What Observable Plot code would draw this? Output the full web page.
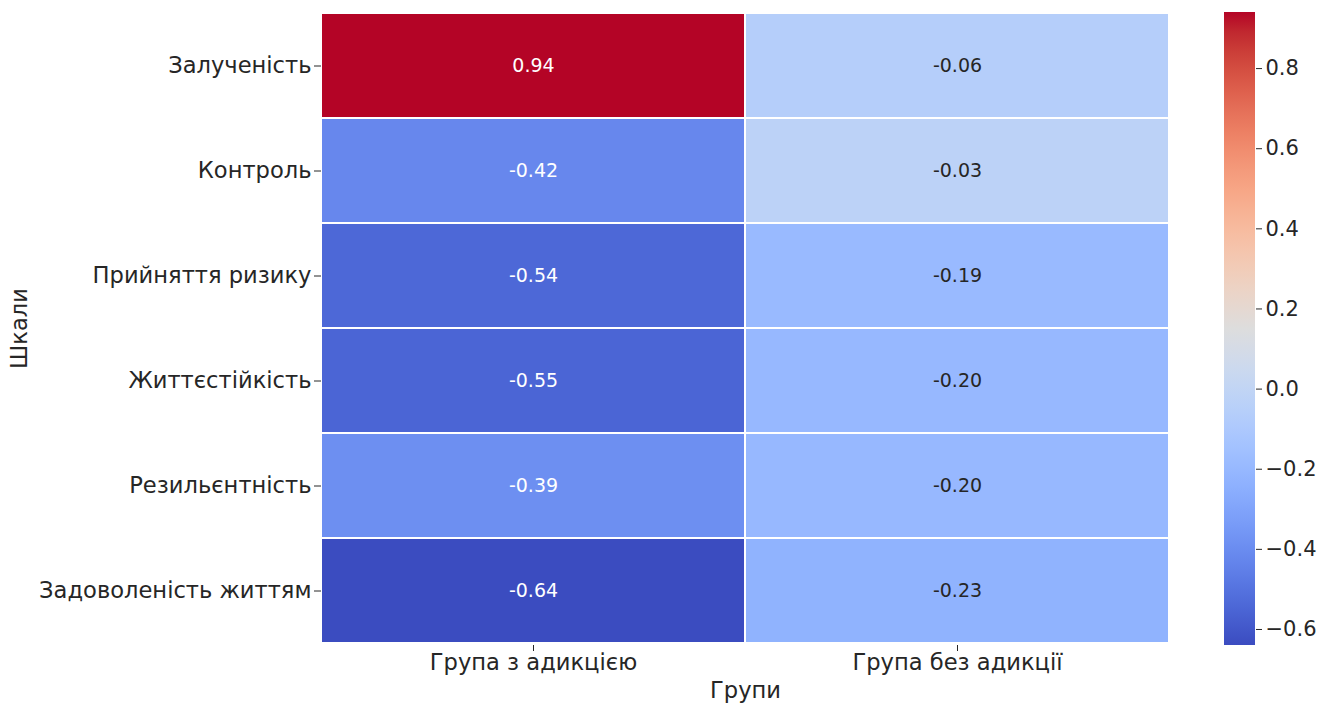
<!DOCTYPE html>
<html>
<head>
<meta charset="utf-8">
<script src="https://cdn.jsdelivr.net/npm/d3@7"></script>
<script src="https://cdn.jsdelivr.net/npm/@observablehq/plot@0.6"></script>
<style>
  html, body { margin: 0; padding: 0; background: #fff; }
  #wrap { position: relative; width: 1334px; height: 704px; overflow: hidden; }
  #heat { position: absolute; left: 0; top: 0; }
  #cbar { position: absolute; left: 1180px; top: 0; }
</style>
</head>
<body>
<div id="wrap"><div id="heat"></div><div id="cbar"></div></div>
<script>
// ---- data ----
const scales = ["Залученість", "Контроль", "Прийняття ризику", "Життєстійкість", "Резильєнтність", "Задоволеність життям"];
const groups = ["Група з адикцією", "Група без адикції"];
const withAddiction = [0.94, -0.42, -0.54, -0.55, -0.39, -0.64];
const withoutAddiction = [-0.06, -0.03, -0.19, -0.20, -0.20, -0.23];
const colorbarTicks = [-0.6, -0.4, -0.2, 0.0, 0.2, 0.4, 0.6, 0.8];
const xLabel = "Групи";
const yLabel = "Шкали";

// ---- table built from arrays ----
const cells = [];
scales.forEach((s, i) => {
  cells.push({group: groups[0], scale: s, value: withAddiction[i]});
  cells.push({group: groups[1], scale: s, value: withoutAddiction[i]});
});
const extent = d3.extent(cells, d => d.value);

// coolwarm palette anchors
const coolwarm = ["#3b4cc0","#445acc","#4d68d7","#5775e1","#6282ea","#6c8ef1","#779af7","#82a5fb","#8db0fe","#98b9ff","#a3c2ff","#aec9fd","#b8d0f9","#c2d5f4","#ccd9ee","#d5dbe6","#dddddd","#e5d8d1","#ecd3c5","#f1ccb8","#f5c4ac","#f7bb9f","#f7b193","#f7a686","#f49a7b","#f18d6f","#ec7f63","#e57059","#de604d","#d55042","#cb3e38","#c0282f","#b40426"];
const interp = d3.interpolateRgbBasis(coolwarm);
const colorOf = v => interp((v - extent[0]) / (extent[1] - extent[0]));
function textColor(v) {
  const c = d3.rgb(colorOf(v));
  const lin = x => { x /= 255; return x <= 0.03928 ? x / 12.92 : Math.pow((x + 0.055) / 1.055, 2.4); };
  const lum = 0.2126 * lin(c.r) + 0.7152 * lin(c.g) + 0.0722 * lin(c.b);
  return lum > 0.408 ? "#262626" : "#ffffff";
}

const font = "'DejaVu Sans', sans-serif";

const heat = Plot.plot({
  width: 1200,
  height: 704,
  marginLeft: 321,
  marginRight: 31,
  marginTop: 11,
  marginBottom: 59,
  style: {fontFamily: font, fontSize: "22.6px", color: "#262626", background: "transparent"},
  x: {domain: groups, label: null, padding: 0},
  y: {domain: scales, label: null, padding: 0},
  color: {type: "linear", domain: extent, interpolate: () => interp},
  marks: [
    Plot.cell(cells, {x: "group", y: "scale", fill: "value", inset: 1}),
    Plot.text(cells, {x: "group", y: "scale", text: d => d.value.toFixed(2), fill: d => textColor(d.value), fontSize: 19}),
    Plot.axisX({tickSize: 6, tickPadding: 2, label: null, fontSize: 22.6}),
    Plot.axisY({tickSize: 7, tickPadding: 3, label: null, fontSize: 22.6}),
    Plot.text([xLabel], {frameAnchor: "bottom", lineAnchor: "middle", dy: 45, fontSize: 22.6, fill: "#262626"}),
    Plot.text([yLabel], {frameAnchor: "left", textAnchor: "middle", lineAnchor: "middle", dx: -302, rotate: -90, fontSize: 22.6, fill: "#262626"})
  ]
});
document.getElementById("heat").appendChild(heat);

const cbar = Plot.plot({
  width: 154,
  height: 704,
  marginLeft: 44,
  marginRight: 79,
  marginTop: 12,
  marginBottom: 59,
  style: {fontFamily: font, fontSize: "21px", color: "#262626", background: "transparent"},
  x: {domain: [0, 1], axis: null},
  y: {domain: extent, label: null},
  marks: [
    Plot.rect([extent], {x1: 0, x2: 1, y1: d => d[0], y2: d => d[1], fill: "url(#coolwarmGrad)"}),
    Plot.axisY({anchor: "right", ticks: colorbarTicks, tickFormat: d3.format(".1f"), tickSize: 6, tickPadding: 4, label: null, fontSize: 21})
  ]
});
const svgNS = "http://www.w3.org/2000/svg";
const defs = document.createElementNS(svgNS, "defs");
const grad = document.createElementNS(svgNS, "linearGradient");
grad.setAttribute("id", "coolwarmGrad");
grad.setAttribute("x1", "0"); grad.setAttribute("y1", "1");
grad.setAttribute("x2", "0"); grad.setAttribute("y2", "0");
coolwarm.forEach((c, i) => {
  const st = document.createElementNS(svgNS, "stop");
  st.setAttribute("offset", (i / (coolwarm.length - 1)).toString());
  st.setAttribute("stop-color", c);
  grad.appendChild(st);
});
defs.appendChild(grad);
cbar.insertBefore(defs, cbar.firstChild);
document.getElementById("cbar").appendChild(cbar);
</script>
</body>
</html>
